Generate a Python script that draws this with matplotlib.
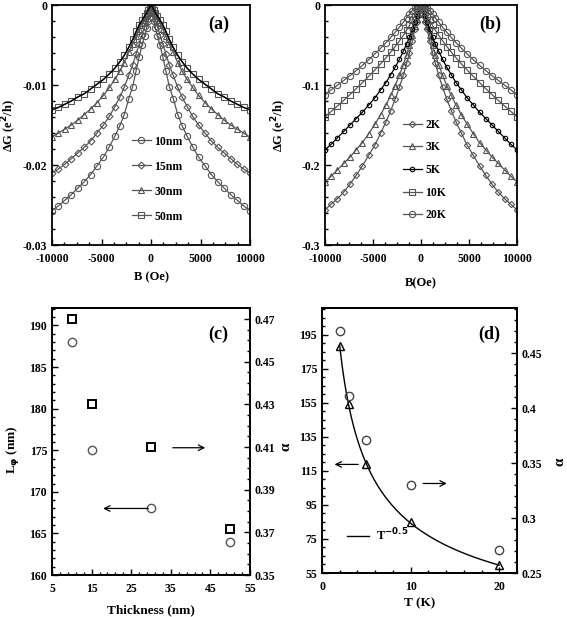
import numpy as np
import matplotlib.pyplot as plt
from matplotlib.ticker import MultipleLocator, FixedLocator, FuncFormatter
from matplotlib.lines import Line2D

plt.rcParams['font.family'] = ['Liberation Serif', 'DejaVu Serif']
plt.rcParams['font.weight'] = 'bold'
plt.rcParams['axes.labelweight'] = 'bold'
plt.rcParams['axes.unicode_minus'] = False
plt.rcParams['mathtext.default'] = 'bf'

# ---- (a) thickness dependence, half curves (B >= 0), mirrored later
B_half = [0, 150, 300, 450, 650, 900, 1200, 1500, 1850, 2250, 2700, 3150,
          3650, 4200, 4800, 5450, 6100, 6750, 7400, 8050, 8700, 9350, 10000]
dG_10nm = [0, -0.0010, -0.0020, -0.0029, -0.0039, -0.0050, -0.0065, -0.0082,
           -0.0102, -0.0117, -0.0137, -0.0151, -0.0164, -0.0177, -0.0190,
           -0.0201, -0.0212, -0.0221, -0.0229, -0.0237, -0.0244, -0.0251, -0.0257]
dG_15nm = [0, -0.00065, -0.0013, -0.0019, -0.0027, -0.0037, -0.0049, -0.0061,
           -0.0075, -0.0088, -0.0103, -0.0115, -0.0127, -0.0139, -0.0150,
           -0.0160, -0.0170, -0.0178, -0.0185, -0.0192, -0.0199, -0.0205, -0.0210]
dG_30nm = [0, -0.00035, -0.0007, -0.0011, -0.0016, -0.0022, -0.0030, -0.0039,
           -0.0049, -0.0059, -0.0072, -0.0083, -0.0093, -0.0103, -0.0113,
           -0.0122, -0.0130, -0.0137, -0.0144, -0.0150, -0.0155, -0.0160, -0.0165]
dG_50nm = [0, -0.0003, -0.00065, -0.0010, -0.0014, -0.0019, -0.0025, -0.0033,
           -0.0043, -0.0053, -0.0063, -0.0071, -0.0079, -0.0086, -0.0093,
           -0.0099, -0.0105, -0.0111, -0.0115, -0.0120, -0.0124, -0.0128, -0.0131]
labels_a = ['10nm', '15nm', '30nm', '50nm']
markers_a = ['o', 'D', '^', 's']

# ---- (b) temperature dependence
dG_2K = [0, -0.006, -0.014, -0.021, -0.030, -0.045, -0.060, -0.073, -0.088,
         -0.103, -0.118, -0.132, -0.146, -0.160, -0.175, -0.188, -0.201,
         -0.213, -0.224, -0.234, -0.242, -0.249, -0.256]
dG_3K = [0, -0.005, -0.011, -0.018, -0.026, -0.037, -0.050, -0.062, -0.075,
         -0.088, -0.101, -0.113, -0.125, -0.137, -0.149, -0.161, -0.172,
         -0.181, -0.190, -0.198, -0.206, -0.214, -0.221]
dG_5K = [0, -0.004, -0.009, -0.014, -0.021, -0.030, -0.040, -0.049, -0.058,
         -0.068, -0.078, -0.087, -0.097, -0.106, -0.116, -0.125, -0.134,
         -0.142, -0.150, -0.158, -0.166, -0.174, -0.181]
dG_10K = [0, -0.0022, -0.0055, -0.0090, -0.0135, -0.0190, -0.0255, -0.0315,
          -0.0380, -0.0448, -0.0520, -0.0588, -0.0660, -0.0734, -0.0812,
          -0.0892, -0.0970, -0.1046, -0.1120, -0.1192, -0.1262, -0.1330, -0.1396]
dG_20K = [0, -0.0002, -0.0008, -0.0018, -0.0038, -0.0069, -0.0114, -0.0161,
          -0.0217, -0.0278, -0.0342, -0.0405, -0.0471, -0.0540, -0.0611,
          -0.0684, -0.0754, -0.0820, -0.0883, -0.0943, -0.1002, -0.1059, -0.1125]
labels_b = ['2K', '3K', '5K', '10K', '20K']
markers_b = ['D', '^', 'o', 's', 'o']

# ---- (c)
thickness = [10, 15, 30, 50]
Lphi_c = [188, 175, 168, 164]
alpha_c = [0.470, 0.430, 0.410, 0.3715]
c_xticks = [5, 15, 25, 35, 45, 55]
c_rticks = [0.35, 0.37, 0.39, 0.41, 0.43, 0.45, 0.47]

# ---- (d)
T = [2, 3, 5, 10, 20]
Lphi_d = [188.1, 154.1, 118.8, 85.0, 59.9]
alpha_d = [0.470, 0.4107, 0.3707, 0.330, 0.2707]
d_lticks = [55, 75, 95, 115, 135, 155, 175, 195]
d_rticks = [0.25, 0.3, 0.35, 0.4, 0.45]


def mirror(h):
    h = np.asarray(h, dtype=float)
    return np.concatenate([h[::-1], h[1:]])


B = np.concatenate([-np.asarray(B_half[::-1], float), np.asarray(B_half[1:], float)])
gfmt = FuncFormatter(lambda v, p: '{:g}'.format(round(v, 6)))

fig = plt.figure(figsize=(5.67, 6.17), dpi=100)
W, H = 567.0, 617.0


def add_ax(l, r, t, b):
    return fig.add_axes([l / W, 1 - b / H, (r - l) / W, (b - t) / H])


def style(ax, right=False, fs=8.5):
    ax.tick_params(which='both', direction='in', top=False, right=right,
                   labelsize=fs, width=1)
    ax.tick_params(which='major', length=4)
    ax.tick_params(which='minor', length=2.5)
    ax.tick_params(axis='x', pad=6)
    for s in ax.spines.values():
        s.set_linewidth(1.3)


# ---------- panel (a)
ax = add_ax(52, 250, 5, 245)
for y, lab, m in zip([dG_10nm, dG_15nm, dG_30nm, dG_50nm], labels_a, markers_a):
    ms = 3.5 if m == 'D' else 4.5
    ax.plot(B, mirror(y), marker=m, ms=ms, mfc='none', mec='#555555', mew=0.8,
            color='#555555', lw=0.9, label=lab)
ax.plot(B, mirror(dG_50nm), color='black', lw=1.0)
ax.set_xlim(-10000, 10000)
ax.set_ylim(-0.03, 0)
ax.xaxis.set_major_locator(MultipleLocator(5000))
ax.xaxis.set_minor_locator(MultipleLocator(1250))
ax.yaxis.set_major_locator(MultipleLocator(0.01))
ax.yaxis.set_minor_locator(MultipleLocator(0.002))
ax.yaxis.set_major_formatter(gfmt)
ax.set_xlabel('B (Oe)', fontsize=9)
ax.xaxis.set_label_coords(0.5, -0.108)
ax.set_ylabel('ΔG (e$^2$/h)', fontsize=9)
ax.yaxis.set_label_coords(-0.165, 0.5)
ax.text(0.84, 0.92, '(a)', transform=ax.transAxes, fontsize=13,
        fontweight='bold', ha='center', va='center')
ax.legend(loc='upper left', bbox_to_anchor=(0.35, 0.50), frameon=False,
          fontsize=8.5, handlelength=1.6, handletextpad=0.3, labelspacing=1.1)
style(ax)

# ---------- panel (b)
ax = add_ax(325, 517, 5, 245)
for y, lab, m in zip([dG_2K, dG_3K, dG_5K, dG_10K, dG_20K], labels_b, markers_b):
    col = 'black' if lab == '5K' else '#555555'
    ms = {'D': 3.2, '^': 4.5, 'o': 4.5, 's': 4.2}[m]
    if lab == '5K':
        ms = 3.2
    ax.plot(B, mirror(y), marker=m, ms=ms, mfc='none', mec=col, mew=0.8,
            color=col, lw=0.9, label=lab)
ax.set_xlim(-10000, 10000)
ax.set_ylim(-0.3, 0)
ax.xaxis.set_major_locator(MultipleLocator(5000))
ax.xaxis.set_minor_locator(MultipleLocator(1250))
ax.yaxis.set_major_locator(MultipleLocator(0.1))
ax.yaxis.set_minor_locator(MultipleLocator(0.02))
ax.yaxis.set_major_formatter(gfmt)
ax.set_xlabel('B(Oe)', fontsize=9)
ax.xaxis.set_label_coords(0.5, -0.133)
ax.set_ylabel('ΔG (e$^2$/h)', fontsize=9)
ax.yaxis.set_label_coords(-0.1875, 0.5)
ax.text(0.86, 0.92, '(b)', transform=ax.transAxes, fontsize=13,
        fontweight='bold', ha='center', va='center')
ax.legend(loc='upper left', bbox_to_anchor=(0.35, 0.57), frameon=False,
          fontsize=8.5, handlelength=1.6, handletextpad=0.3, labelspacing=0.9)
style(ax)

# ---------- panel (c)
ax = add_ax(52, 250, 308, 575)
ax.plot(thickness, Lphi_c, 'o', ms=6, mfc='none', mec='#555555', mew=1)
ax.set_xlim(5, 55)
ax.set_ylim(160, 192.1)
ax.xaxis.set_major_locator(FixedLocator(c_xticks))
ax.xaxis.set_minor_locator(FixedLocator(list(range(7, 55, 2))))
ax.yaxis.set_major_locator(MultipleLocator(5))
ax.yaxis.set_minor_locator(MultipleLocator(1))
ax.set_xlabel('Thickness (nm)', fontsize=9.5)
ax.xaxis.set_label_coords(0.5, -0.108)
ax.set_ylabel('L$_\\mathbf{\\varphi}$ (nm)', fontsize=9.5)
ax.yaxis.set_label_coords(-0.157, 0.47)
ax.text(0.84, 0.9, '(c)', transform=ax.transAxes, fontsize=13,
        fontweight='bold', ha='center', va='center')
ax.annotate('', xy=(17.2, 168), xytext=(30, 168),
            arrowprops=dict(arrowstyle='->', lw=0.9, color='black'))
ax.annotate('', xy=(44.4, 175.3), xytext=(34.8, 175.3),
            arrowprops=dict(arrowstyle='->', lw=0.9, color='black'))
style(ax)
ax2 = ax.twinx()
ax2.plot(thickness, alpha_c, 's', ms=6, mfc='none', mec='black', mew=1.4)
ax2.set_ylim(0.35, 0.4752)
ax2.yaxis.set_major_locator(FixedLocator(c_rticks))
ax2.yaxis.set_minor_locator(MultipleLocator(0.005))
ax2.yaxis.set_major_formatter(gfmt)
ax2.set_ylabel('α', fontsize=11)
ax2.yaxis.set_label_coords(1.15, 0.48)
style(ax2, right=True)

# ---------- panel (d)
ax = add_ax(322, 517, 308, 573)
ax.plot(T, Lphi_d, '^', ms=6, mfc='none', mec='black', mew=1)
Ta = np.asarray(T, float)
A = np.sum(np.asarray(Lphi_d) * Ta ** -0.5) / np.sum(Ta ** -1.0)
Tf = np.linspace(2, 20, 200)
ax.plot(Tf, A * Tf ** -0.5, color='black', lw=1)
ax.set_xlim(0, 22)
ax.set_ylim(55, 210.7)
ax.xaxis.set_major_locator(MultipleLocator(10))
ax.xaxis.set_minor_locator(MultipleLocator(2))
ax.yaxis.set_major_locator(FixedLocator(d_lticks))
ax.yaxis.set_minor_locator(MultipleLocator(5))
ax.set_xlabel('T (K)', fontsize=9.5)
ax.xaxis.set_label_coords(0.5, -0.09)
ax.text(0.86, 0.9, '(d)', transform=ax.transAxes, fontsize=13,
        fontweight='bold', ha='center', va='center')
ax.annotate('', xy=(1.1, 118.8), xytext=(4.4, 118.8),
            arrowprops=dict(arrowstyle='->', lw=0.9, color='black'))
ax.annotate('', xy=(14.4, 107.6), xytext=(11.1, 107.6),
            arrowprops=dict(arrowstyle='->', lw=0.9, color='black'))
ax.legend([Line2D([], [], color='black', lw=1)], ['T$^{-0.5}$'],
          loc='lower left', bbox_to_anchor=(0.07, 0.07), frameon=False,
          fontsize=9, handlelength=1.8, handletextpad=0.5)
style(ax)
ax2 = ax.twinx()
ax2.plot(T, alpha_d, 'o', ms=6, mfc='none', mec='#444444', mew=1)
ax2.set_ylim(0.25, 0.491)
ax2.yaxis.set_major_locator(FixedLocator(d_rticks))
ax2.yaxis.set_minor_locator(MultipleLocator(0.01))
ax2.yaxis.set_major_formatter(gfmt)
ax2.set_ylabel('α', fontsize=11)
ax2.yaxis.set_label_coords(1.185, 0.42)
style(ax2, right=True)

fig.savefig('out.png', dpi=100)
